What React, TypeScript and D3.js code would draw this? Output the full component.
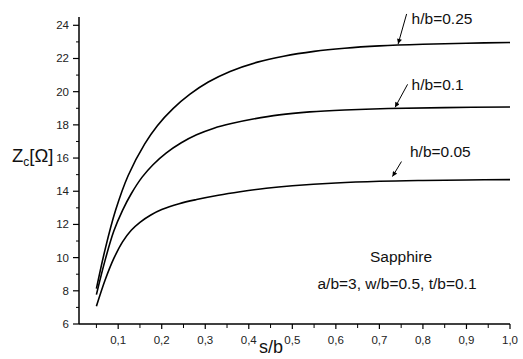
import React from 'react';
import * as d3 from 'd3';

// h/b = 0.25
const sbA = [0.05, 0.07, 0.094, 0.123, 0.161, 0.19, 0.226, 0.265, 0.307, 0.357, 0.42, 0.48, 0.55, 0.62, 0.7, 0.8, 0.9, 1.0];
const zcA = [8.13, 10.5, 12.85, 14.95, 16.85, 17.95, 18.98, 19.85, 20.58, 21.22, 21.78, 22.14, 22.43, 22.62, 22.76, 22.86, 22.92, 22.96];

// h/b = 0.1
const sbB = [0.05, 0.07, 0.09, 0.11, 0.13, 0.155, 0.18, 0.21, 0.245, 0.28, 0.32, 0.36, 0.41, 0.47, 0.54, 0.62, 0.72, 0.85, 1.0];
const zcB = [7.77, 9.85, 11.6, 12.85, 13.85, 14.85, 15.6, 16.3, 16.92, 17.4, 17.8, 18.08, 18.35, 18.6, 18.78, 18.9, 18.99, 19.04, 19.08];

// h/b = 0.05
const sbC = [0.05, 0.07, 0.09, 0.11, 0.13, 0.15, 0.175, 0.2, 0.24, 0.28, 0.33, 0.38, 0.44, 0.5, 0.6, 0.7, 0.8, 0.9, 1.0];
const zcC = [7.07, 8.65, 9.95, 10.95, 11.65, 12.13, 12.57, 12.9, 13.25, 13.5, 13.76, 13.97, 14.18, 14.33, 14.5, 14.6, 14.65, 14.68, 14.7];

const seriesNames = ['h/b=0.25', 'h/b=0.1', 'h/b=0.05'];
const seriesX = [sbA, sbB, sbC];
const seriesY = [zcA, zcB, zcC];
// s/b where each label arrow points at its curve
const arrowAt = [0.743, 0.736, 0.73];

const xTicks = [0.1, 0.2, 0.3, 0.4, 0.5, 0.6, 0.7, 0.8, 0.9, 1.0];
const yTicks = [6, 8, 10, 12, 14, 16, 18, 20, 22, 24];

const W = 523;
const H = 359;
const font = 'Liberation Sans, Arial, sans-serif';

// annotation layout (pixels): gap above curve, arrow tail offset, text offset
const annot = [
  { gap: 1.2, tx: 8.5, ty: -30, lx: 13.5, ly: -20 },
  { gap: 1, tx: 12.5, ty: -23, lx: 16.5, ly: -17.5 },
  { gap: 4.5, tx: 9, ty: -15, lx: 17.5, ly: -20 },
];

const x = d3.scaleLinear().domain([0.01, 1.0]).range([79, 510]);
const y = d3.scaleLinear().domain([6, 24.5]).range([324, 17]);

const App: React.FC = () => {
  const line = d3.line<[number, number]>()
    .x(d => x(d[0]))
    .y(d => y(d[1]))
    .curve(d3.curveCatmullRom.alpha(0.5));

  const xMinor = d3.range(0.05, 1.0001, 0.05).filter(v => Math.abs(v * 10 - Math.round(v * 10)) > 1e-6);
  const yMinor = d3.range(7, 24, 2);

  const interp = (xs: number[], ys: number[], sv: number) => {
    const i = d3.bisectLeft(xs, sv);
    const t = (sv - xs[i - 1]) / (xs[i] - xs[i - 1]);
    return ys[i - 1] + t * (ys[i] - ys[i - 1]);
  };

  const [x0, x1] = x.range();
  const [y0, y1] = y.range();

  return (
    <svg width={W} height={H} style={{ position: 'absolute', left: 0, top: 0, background: '#fff' }}
      fontFamily={font}>
      <defs>
        <marker id="ah" viewBox="0 0 10 10" refX="10" refY="5" markerWidth="7" markerHeight="5"
          orient="auto" markerUnits="userSpaceOnUse">
          <path d="M0,0 L10,5 L0,10 z" fill="#000" />
        </marker>
      </defs>

      {/* axes */}
      <line x1={x0} x2={x0} y1={y0} y2={y1} stroke="#000" strokeWidth={1.5} />
      <line x1={x0} x2={x1} y1={y0} y2={y0} stroke="#000" strokeWidth={1.5} />

      {yTicks.map(t => (
        <g key={'y' + t}>
          <line x1={x0 - 6} x2={x0} y1={y(t)} y2={y(t)} stroke="#000" strokeWidth={1.2} />
          <text x={69} y={y(t) + 4} textAnchor="end" fontSize={11.5} fill="#222">{t}</text>
        </g>
      ))}
      {yMinor.map(t => (
        <line key={'ym' + t} x1={x0 - 3} x2={x0} y1={y(t)} y2={y(t)} stroke="#000" strokeWidth={1} />
      ))}

      {xTicks.map(t => (
        <g key={'x' + t}>
          <line x1={x(t)} x2={x(t)} y1={y0} y2={y0 + 5} stroke="#000" strokeWidth={1.2} />
          <text x={x(t)} y={344} textAnchor="middle" fontSize={11.5} fill="#222">{t.toFixed(1).replace('.', ',')}</text>
        </g>
      ))}
      {xMinor.map(t => (
        <line key={'xm' + t} x1={x(t)} x2={x(t)} y1={y0} y2={y0 + 4} stroke="#000" strokeWidth={1} />
      ))}

      {/* axis titles */}
      <text x={12} y={162} fontSize={18.5} fill="#111">
        Z<tspan fontSize={12} dy={4}>c</tspan><tspan dy={-4}>[Ω]</tspan>
      </text>
      <text x={271} y={353} textAnchor="middle" fontSize={18} fill="#111">s/b</text>

      {/* curves */}
      {seriesY.map((vals, i) => (
        <path key={seriesNames[i]}
          d={line(seriesX[i].map((s, j) => [s, vals[j]] as [number, number])) || ''}
          fill="none" stroke="#000" strokeWidth={1.6} />
      ))}

      {/* labels with arrows */}
      {seriesY.map((vals, i) => {
        const a = annot[i];
        const px = x(arrowAt[i]);
        const py = y(interp(seriesX[i], vals, arrowAt[i])) - a.gap;
        return (
          <g key={'lab' + i}>
            <line x1={px + a.tx} y1={py + a.ty} x2={px} y2={py} stroke="#000" strokeWidth={1} markerEnd="url(#ah)" />
            <text x={px + a.lx} y={py + a.ly} fontSize={15.5} fill="#111">{seriesNames[i]}</text>
          </g>
        );
      })}

      <text x={401} y={262} textAnchor="middle" fontSize={15.5} fill="#111">Sapphire</text>
      <text x={397} y={289} textAnchor="middle" fontSize={15.5} fill="#111">a/b=3, w/b=0.5, t/b=0.1</text>
    </svg>
  );
};

export default App;
